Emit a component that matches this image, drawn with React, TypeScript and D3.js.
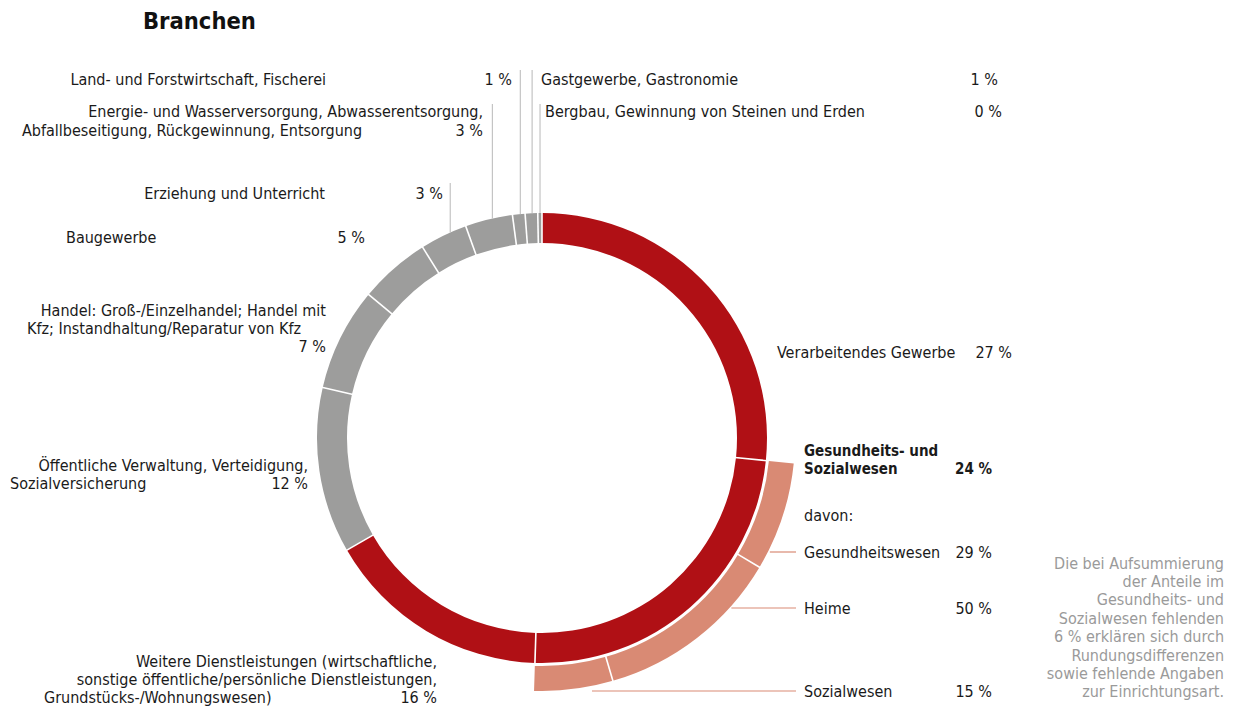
import React from "react";
import * as d3 from "d3";

// ---- data ----
const categories: string[][] = [
  ["Verarbeitendes Gewerbe"],
  ["Gesundheits- und", "Sozialwesen"],
  ["Weitere Dienstleistungen (wirtschaftliche,", "sonstige öffentliche/persönliche Dienstleistungen,", "Grundstücks-/Wohnungswesen)"],
  ["Öffentliche Verwaltung, Verteidigung,", "Sozialversicherung"],
  ["Handel: Groß-/Einzelhandel; Handel mit", "Kfz; Instandhaltung/Reparatur von Kfz"],
  ["Baugewerbe"],
  ["Erziehung und Unterricht"],
  ["Energie- und Wasserversorgung, Abwasserentsorgung,", "Abfallbeseitigung, Rückgewinnung, Entsorgung"],
  ["Land- und Forstwirtschaft, Fischerei"],
  ["Gastgewerbe, Gastronomie"],
  ["Bergbau, Gewinnung von Steinen und Erden"],
];
const shares: number[] = [26.6, 23.9, 16.2, 11.9, 7.4, 5.1, 3.4, 3.4, 0.9, 0.9, 0.3];
const highlight: boolean[] = [true, true, true, false, false, false, false, false, false, false, false];

const subCategories: string[] = ["Gesundheitswesen", "Heime", "Sozialwesen"];
const subShares: number[] = [29, 50, 15];

const title = "Branchen";
const footnote: string[] = [
  "Die bei Aufsummierung",
  "der Anteile im",
  "Gesundheits- und",
  "Sozialwesen fehlenden",
  "6 % erklären sich durch",
  "Rundungsdifferenzen",
  "sowie fehlende Angaben",
  "zur Einrichtungsart.",
];

// ---- layout / style ----
const W = 1241, H = 706;
const cx = 542, cy = 438;
const r0 = 195, r1 = 225, s0 = 228, s1 = 253;
const RED = "#b01015", GRAY = "#9d9d9c", SALMON = "#d98a74";
const TEXT = "#1a1a1a", LEAD = "#b8b8b8", NOTE = "#9a9a9a";
const FONT = "'DejaVu Sans Condensed', Roboto, 'Liberation Sans', sans-serif";
const FS = 16;
const FSB = 15;

type Line = { x: number; y: number; a: "start" | "end" };
const labelLayout: { lines: Line[]; pct: { x: number; y: number }; leadTop?: number; bold?: boolean }[] = [
  { lines: [{ x: 777, y: 352, a: "start" }], pct: { x: 1012, y: 352 } },
  { lines: [{ x: 804, y: 451, a: "start" }, { x: 804, y: 469, a: "start" }], pct: { x: 992, y: 469 }, bold: true },
  { lines: [{ x: 437, y: 661, a: "end" }, { x: 437, y: 679, a: "end" }, { x: 44, y: 697, a: "start" }], pct: { x: 437, y: 697 } },
  { lines: [{ x: 308, y: 465, a: "end" }, { x: 10, y: 483, a: "start" }], pct: { x: 308, y: 483 } },
  { lines: [{ x: 326, y: 310, a: "end" }, { x: 27, y: 328, a: "start" }], pct: { x: 326, y: 346 } },
  { lines: [{ x: 66, y: 237, a: "start" }], pct: { x: 365, y: 237 } },
  { lines: [{ x: 325, y: 193, a: "end" }], pct: { x: 443, y: 193 }, leadTop: 183 },
  { lines: [{ x: 483, y: 111, a: "end" }, { x: 22, y: 130, a: "start" }], pct: { x: 483, y: 130 }, leadTop: 104 },
  { lines: [{ x: 326, y: 79, a: "end" }], pct: { x: 512, y: 79 }, leadTop: 70 },
  { lines: [{ x: 541, y: 79, a: "start" }], pct: { x: 998, y: 79 }, leadTop: 70 },
  { lines: [{ x: 545, y: 111, a: "start" }], pct: { x: 1002, y: 111 }, leadTop: 104 },
];
const subLayout = [
  { y: 552, x0: null as number | null },
  { y: 608, x0: null as number | null },
  { y: 691, x0: 592 },
];

const pct = (v: number) => `${Math.round(v)} %`;

export default function App() {
  const pie = d3.pie<number>().sort(null).value((d) => d).startAngle(0).endAngle(2 * Math.PI);
  const arcs = pie(shares);
  const arcGen = d3.arc<d3.PieArcDatum<number>>().innerRadius(r0).outerRadius(r1);

  const g = arcs[1];
  const rest = 100 - d3.sum(subShares);
  const subPie = d3.pie<number>().sort(null).value((d) => d).startAngle(g.startAngle).endAngle(g.endAngle);
  const subArcsRaw = subPie([...subShares, rest]);
  // the unassigned remainder is drawn as part of the last sub-arc (no separator)
  const subArcs = subArcsRaw.slice(0, subShares.length).map((d, i) =>
    i === subShares.length - 1 ? { ...d, endAngle: subArcsRaw[subArcsRaw.length - 1].endAngle } : d
  );
  const subArcGen = d3.arc<d3.PieArcDatum<number>>().innerRadius(s0).outerRadius(s1);

  const sep = (a: number, ri: number, ro: number, key: string) => (
    <line
      key={key}
      x1={cx + ri * Math.sin(a)}
      y1={cy - ri * Math.cos(a)}
      x2={cx + (ro + 1) * Math.sin(a)}
      y2={cy - (ro + 1) * Math.cos(a)}
      stroke="#fff"
      strokeWidth={1.6}
    />
  );

  return (
    <svg width={W} height={H} style={{ position: "absolute", left: 0, top: 0, fontFamily: FONT }}>
      <text x={143} y={21} fontSize={23.5} fontWeight="bold" dominantBaseline="central" fill="#111">
        {title}
      </text>

      {/* rings */}
      <g transform={`translate(${cx},${cy})`}>
        {arcs.map((d, i) => (
          <path key={i} d={arcGen(d) || ""} fill={highlight[i] ? RED : GRAY} />
        ))}
        {subArcs.map((d, i) => (
          <path key={"s" + i} d={subArcGen(d) || ""} fill={SALMON} />
        ))}
      </g>
      {arcs.map((d, i) => sep(d.startAngle, r0 - 1, r1, "sep" + i))}
      {subArcs.slice(1).map((d, i) => sep(d.startAngle, s0 - 1, s1, "ssep" + i))}

      {/* leader lines for small segments */}
      {arcs.map((d, i) => {
        const L = labelLayout[i];
        if (L.leadTop === undefined) return null;
        const mid = (d.startAngle + d.endAngle) / 2;
        const x = cx + ((r0 + r1) / 2) * Math.sin(mid);
        const yBottom = cy - Math.sqrt(r1 * r1 - (x - cx) * (x - cx));
        return <line key={"lead" + i} x1={x} x2={x} y1={L.leadTop} y2={yBottom} stroke={LEAD} strokeWidth={1} />;
      })}

      {/* main labels */}
      {categories.map((lines, i) => {
        const L = labelLayout[i];
        return (
          <g key={"lab" + i} fontSize={L.bold ? FSB : FS} fill={TEXT} fontWeight={L.bold ? "bold" : "normal"}>
            {lines.map((t, j) => (
              <text key={j} x={L.lines[j].x} y={L.lines[j].y} textAnchor={L.lines[j].a} dominantBaseline="central">
                {t}
              </text>
            ))}
            <text x={L.pct.x} y={L.pct.y} textAnchor="end" dominantBaseline="central">
              {pct(shares[i])}
            </text>
          </g>
        );
      })}

      {/* sub labels */}
      <text x={804} y={515} fontSize={FS} fill={TEXT} dominantBaseline="central">
        davon:
      </text>
      {subCategories.map((t, i) => {
        const S = subLayout[i];
        const dy = S.y - cy;
        const x0 = S.x0 !== null ? S.x0 : cx + Math.sqrt(s1 * s1 - dy * dy) + 2;
        return (
          <g key={"sub" + i}>
            <line x1={x0} x2={796} y1={S.y} y2={S.y} stroke={SALMON} strokeWidth={1.2} />
            <text x={804} y={S.y} fontSize={FS} fill={TEXT} dominantBaseline="central">
              {t}
            </text>
            <text x={992} y={S.y} fontSize={FS} fill={TEXT} textAnchor="end" dominantBaseline="central">
              {pct(subShares[i])}
            </text>
          </g>
        );
      })}

      {/* footnote */}
      {footnote.map((t, i) => (
        <text key={"fn" + i} x={1224} y={563 + i * 18.4} fontSize={16} fill={NOTE} textAnchor="end" dominantBaseline="central">
          {t}
        </text>
      ))}
    </svg>
  );
}
